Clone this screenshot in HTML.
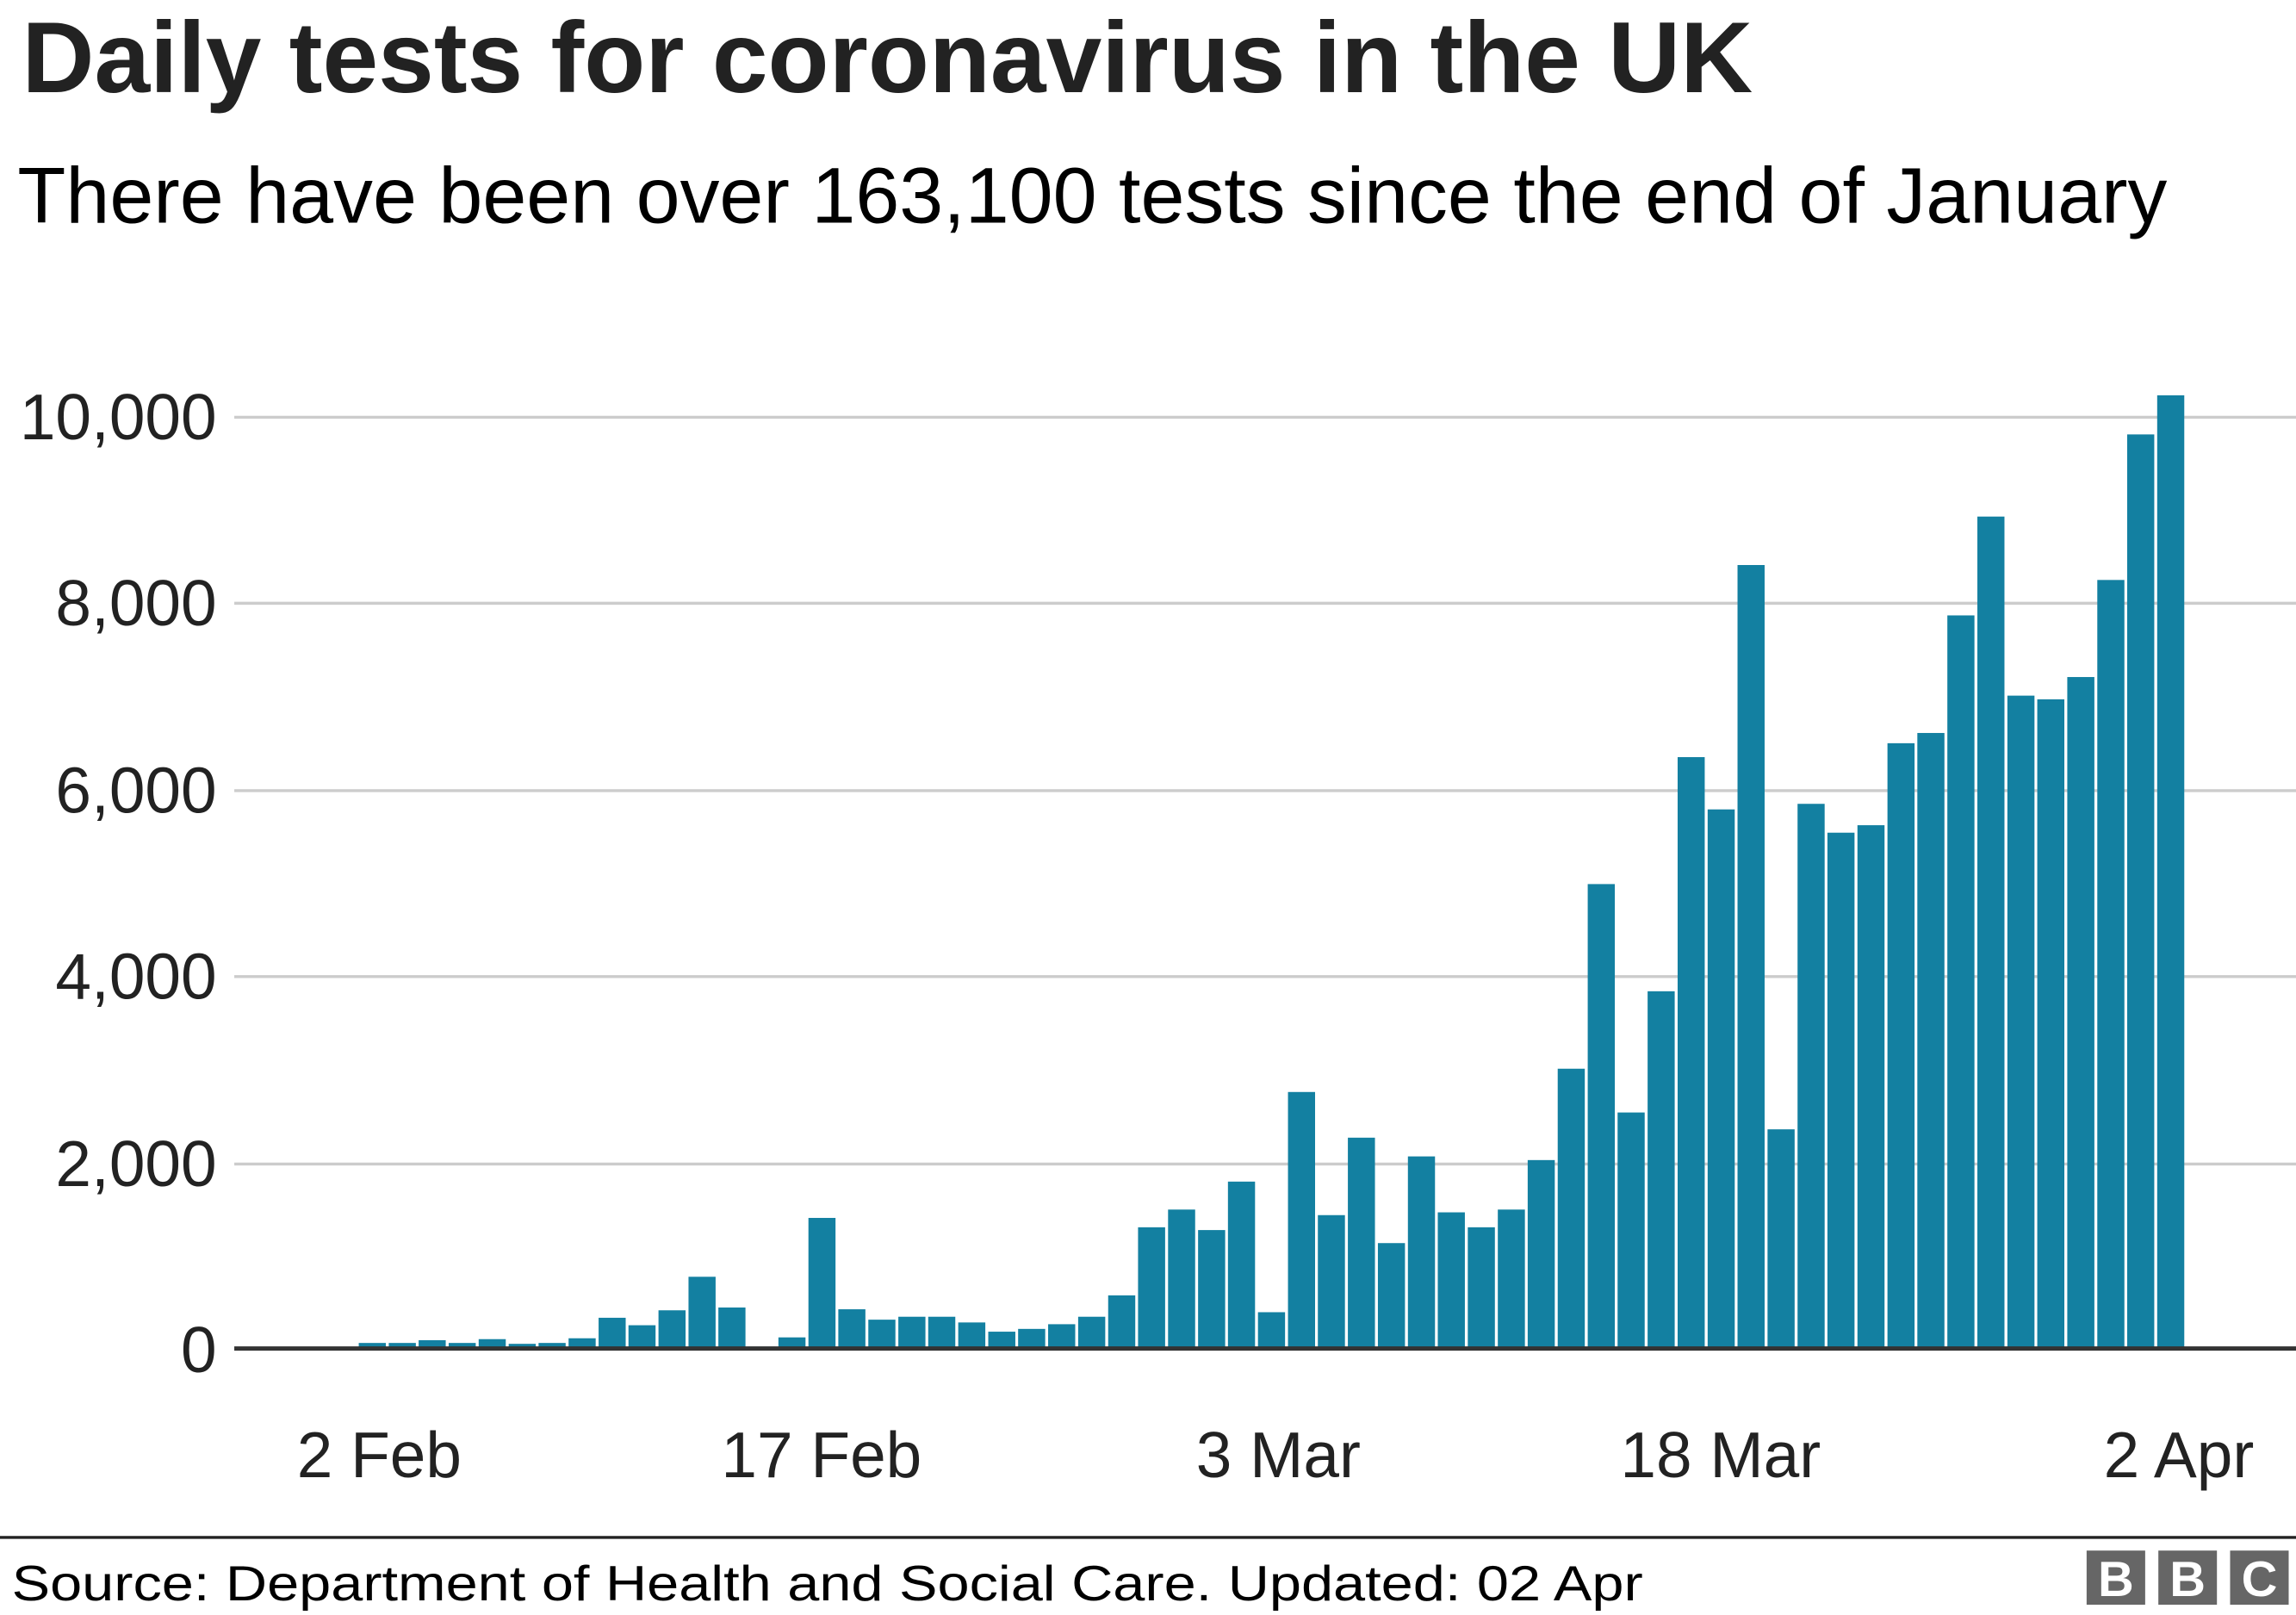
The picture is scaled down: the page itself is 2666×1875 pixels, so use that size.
<!DOCTYPE html>
<html><head><meta charset="utf-8"><style>
html,body{margin:0;padding:0;background:#fff}
svg{display:block}
</style></head><body>
<svg width="2666" height="1875" viewBox="0 0 1568 1103" preserveAspectRatio="none" xmlns="http://www.w3.org/2000/svg" font-family="Liberation Sans, Arial, sans-serif">
<rect width="1568" height="1103" fill="#fff"/>
<text x="15" y="63" font-size="69" font-weight="bold" fill="#222" textLength="1182" lengthAdjust="spacingAndGlyphs">Daily tests for coronavirus in the UK</text>
<text x="12" y="152" font-size="54" fill="#000" textLength="1468" lengthAdjust="spacingAndGlyphs">There have been over 163,100 tests since the end of January</text>
<g stroke="#cccccc" stroke-width="2">
<line x1="160" x2="1568" y1="285" y2="285"/>
<line x1="160" x2="1568" y1="412" y2="412"/>
<line x1="160" x2="1568" y1="540" y2="540"/>
<line x1="160" x2="1568" y1="667" y2="667"/>
<line x1="160" x2="1568" y1="795" y2="795"/>
</g>
<g font-size="44" fill="#222" text-anchor="end">
<text x="148" y="300">10,000</text>
<text x="148" y="427">8,000</text>
<text x="148" y="555">6,000</text>
<text x="148" y="682">4,000</text>
<text x="148" y="810">2,000</text>
<text x="148" y="937">0</text>
</g>
<g fill="#1380a1">
<rect x="245.0" y="917.2" width="18.5" height="3.8"/>
<rect x="265.5" y="917.2" width="18.5" height="3.8"/>
<rect x="285.9" y="915.3" width="18.5" height="5.7"/>
<rect x="306.4" y="917.2" width="18.5" height="3.8"/>
<rect x="326.9" y="914.6" width="18.5" height="6.4"/>
<rect x="347.4" y="917.8" width="18.5" height="3.2"/>
<rect x="367.8" y="917.2" width="18.5" height="3.8"/>
<rect x="388.3" y="914.0" width="18.5" height="7.0"/>
<rect x="408.8" y="900.0" width="18.5" height="21.0"/>
<rect x="429.2" y="905.1" width="18.5" height="15.9"/>
<rect x="449.7" y="894.9" width="18.5" height="26.1"/>
<rect x="470.2" y="872.0" width="18.5" height="49.0"/>
<rect x="490.6" y="893.0" width="18.5" height="28.0"/>
<rect x="511.1" y="919.7" width="18.5" height="1.3"/>
<rect x="531.6" y="913.4" width="18.5" height="7.6"/>
<rect x="552.1" y="831.8" width="18.5" height="89.2"/>
<rect x="572.5" y="894.2" width="18.5" height="26.8"/>
<rect x="593.0" y="901.3" width="18.5" height="19.7"/>
<rect x="613.5" y="899.3" width="18.5" height="21.7"/>
<rect x="633.9" y="899.3" width="18.5" height="21.7"/>
<rect x="654.4" y="903.2" width="18.5" height="17.8"/>
<rect x="674.9" y="909.5" width="18.5" height="11.5"/>
<rect x="695.3" y="907.6" width="18.5" height="13.4"/>
<rect x="715.8" y="904.4" width="18.5" height="16.6"/>
<rect x="736.3" y="899.3" width="18.5" height="21.7"/>
<rect x="756.8" y="884.7" width="18.5" height="36.3"/>
<rect x="777.2" y="838.2" width="18.5" height="82.8"/>
<rect x="797.7" y="826.1" width="18.5" height="94.9"/>
<rect x="818.2" y="840.1" width="18.5" height="80.9"/>
<rect x="838.6" y="807.0" width="18.5" height="114.0"/>
<rect x="859.1" y="896.2" width="18.5" height="24.8"/>
<rect x="879.6" y="745.8" width="18.5" height="175.2"/>
<rect x="900.0" y="829.9" width="18.5" height="91.1"/>
<rect x="920.5" y="777.0" width="18.5" height="144.0"/>
<rect x="941.0" y="849.0" width="18.5" height="72.0"/>
<rect x="961.5" y="789.8" width="18.5" height="131.2"/>
<rect x="981.9" y="828.0" width="18.5" height="93.0"/>
<rect x="1002.4" y="838.2" width="18.5" height="82.8"/>
<rect x="1022.9" y="826.1" width="18.5" height="94.9"/>
<rect x="1043.3" y="792.3" width="18.5" height="128.7"/>
<rect x="1063.8" y="729.9" width="18.5" height="191.1"/>
<rect x="1084.3" y="603.8" width="18.5" height="317.2"/>
<rect x="1104.7" y="759.8" width="18.5" height="161.2"/>
<rect x="1125.2" y="677.0" width="18.5" height="244.0"/>
<rect x="1145.7" y="517.1" width="18.5" height="403.9"/>
<rect x="1166.2" y="552.8" width="18.5" height="368.2"/>
<rect x="1186.6" y="385.9" width="18.5" height="535.1"/>
<rect x="1207.1" y="771.3" width="18.5" height="149.7"/>
<rect x="1227.6" y="549.0" width="18.5" height="372.0"/>
<rect x="1248.0" y="568.7" width="18.5" height="352.3"/>
<rect x="1268.5" y="563.6" width="18.5" height="357.4"/>
<rect x="1289.0" y="507.6" width="18.5" height="413.4"/>
<rect x="1309.4" y="500.6" width="18.5" height="420.4"/>
<rect x="1329.9" y="420.3" width="18.5" height="500.7"/>
<rect x="1350.4" y="352.8" width="18.5" height="568.2"/>
<rect x="1370.9" y="475.1" width="18.5" height="445.9"/>
<rect x="1391.3" y="477.6" width="18.5" height="443.4"/>
<rect x="1411.8" y="462.4" width="18.5" height="458.6"/>
<rect x="1432.3" y="396.1" width="18.5" height="524.9"/>
<rect x="1452.7" y="296.7" width="18.5" height="624.3"/>
<rect x="1473.2" y="270.0" width="18.5" height="651.0"/>
</g>
<line x1="160" x2="1568" y1="921" y2="921" stroke="#333" stroke-width="3"/>
<g font-size="44" fill="#222" text-anchor="middle">
<text x="259" y="1009">2 Feb</text>
<text x="561" y="1009">17 Feb</text>
<text x="873" y="1009">3 Mar</text>
<text x="1175" y="1009">18 Mar</text>
<text x="1488" y="1009">2 Apr</text>
</g>
<line x1="0" x2="1568" y1="1050" y2="1050" stroke="#222" stroke-width="2"/>
<text x="8" y="1093" font-size="34" fill="#000" textLength="1114" lengthAdjust="spacingAndGlyphs">Source: Department of Health and Social Care. Updated: 02 Apr</text>
<g fill="#666">
<rect x="1425" y="1059" width="40" height="37"/>
<rect x="1474" y="1059" width="40" height="37"/>
<rect x="1523" y="1059" width="40" height="37"/>
</g>
<g fill="#fff" font-size="34" font-weight="bold" text-anchor="middle">
<text x="1445" y="1090">B</text>
<text x="1494" y="1090">B</text>
<text x="1543" y="1090">C</text>
</g>
</svg>
</body></html>
